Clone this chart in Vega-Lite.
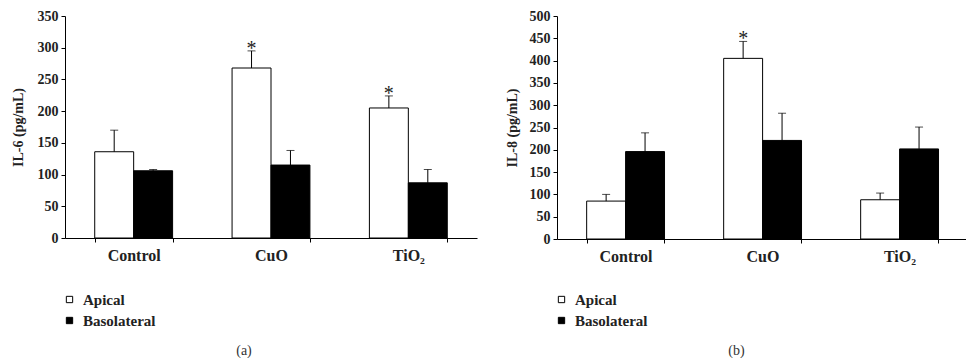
{
  "$schema": "https://vega.github.io/schema/vega-lite/v6.json",
  "background": "white",
  "padding": {"left": 11, "top": 9, "right": 0, "bottom": 0},
  "bounds": "flush",
  "spacing": 80,
  "datasets": {
    "il6": [
      {"site": "Control", "side": "Apical", "mean": 136, "upper": 170, "sig": ""},
      {"site": "Control", "side": "Basolateral", "mean": 106, "upper": 108, "sig": ""},
      {"site": "CuO", "side": "Apical", "mean": 268, "upper": 295, "sig": "*"},
      {"site": "CuO", "side": "Basolateral", "mean": 115, "upper": 138, "sig": ""},
      {"site": "TiO₂", "side": "Apical", "mean": 205, "upper": 224, "sig": "*"},
      {"site": "TiO₂", "side": "Basolateral", "mean": 87, "upper": 108, "sig": ""}
    ],
    "il8": [
      {"site": "Control", "side": "Apical", "mean": 85, "upper": 100, "sig": ""},
      {"site": "Control", "side": "Basolateral", "mean": 196, "upper": 238, "sig": ""},
      {"site": "CuO", "side": "Apical", "mean": 405, "upper": 443, "sig": "*"},
      {"site": "CuO", "side": "Basolateral", "mean": 221, "upper": 282, "sig": ""},
      {"site": "TiO₂", "side": "Apical", "mean": 88, "upper": 103, "sig": ""},
      {"site": "TiO₂", "side": "Basolateral", "mean": 202, "upper": 251, "sig": ""}
    ]
  },
  "config": {
    "view": {"stroke": null},
    "font": "Liberation Serif",
    "axis": {
      "labelFont": "Liberation Serif",
      "labelFontSize": 14,
      "labelFontWeight": "bold",
      "labelColor": "#222",
      "labelOverlap": false,
      "titleFont": "Liberation Serif",
      "titleFontSize": 14,
      "titleFontWeight": "bold",
      "titleColor": "#222",
      "domainColor": "black",
      "tickColor": "black",
      "tickSize": 4,
      "grid": false
    },
    "legend": {
      "labelFont": "Liberation Serif",
      "labelFontSize": 15,
      "labelFontWeight": "bold",
      "labelColor": "#222",
      "padding": 0
    },
    "title": {
      "font": "Liberation Serif",
      "fontSize": 14,
      "fontWeight": "normal",
      "color": "#333"
    }
  },
  "resolve": {"scale": {"fill": "independent"}, "legend": {"fill": "independent"}},
  "hconcat": [
    {
      "width": 412,
      "height": 222,
      "data": {"name": "il6"},
      "title": {"text": "(a)", "orient": "bottom", "anchor": "middle", "frame": "bounds", "offset": 15},
      "encoding": {
        "x": {
          "field": "site", "type": "nominal", "sort": ["Control", "CuO", "TiO₂"],
          "scale": {"paddingInner": 0.433, "paddingOuter": 0.2165},
          "axis": {"title": null, "labelAngle": 0, "tickBand": "extent", "labelPadding": 5, "labelFontSize": 16}
        },
        "xOffset": {"field": "side", "type": "nominal", "sort": ["Apical", "Basolateral"], "scale": {"paddingInner": 0, "paddingOuter": 0}}
      },
      "layer": [
        {
          "mark": {"type": "bar", "stroke": "black", "strokeWidth": 1},
          "encoding": {
            "y": {"field": "mean", "type": "quantitative", "scale": {"domain": [0, 350]},
                  "axis": {"title": "IL-6 (pg/mL)", "values": [0, 50, 100, 150, 200, 250, 300, 350], "labelOverlap": false, "labelPadding": 3, "titlePadding": 12}},
            "fill": {"field": "side", "type": "nominal",
                     "scale": {"domain": ["Apical", "Basolateral"], "range": ["white", "black"]},
                     "legend": {"title": null, "orient": "none", "legendX": -3, "legendY": 276,
                                "symbolType": "square", "symbolSize": 40, "symbolStrokeColor": "black",
                                "symbolStrokeWidth": 1, "labelOffset": 6, "rowPadding": 5}}
          }
        },
        {
          "mark": {"type": "rule", "color": "black", "strokeWidth": 1},
          "encoding": {"y": {"field": "mean", "type": "quantitative",
                  "axis": {"title": "IL-6 (pg/mL)", "values": [0, 50, 100, 150, 200, 250, 300, 350], "labelOverlap": false, "labelPadding": 3, "titlePadding": 12}},
                       "y2": {"field": "upper"}}
        },
        {
          "mark": {"type": "tick", "color": "black", "size": 8, "thickness": 1},
          "encoding": {"y": {"field": "upper", "type": "quantitative",
                  "axis": {"title": "IL-6 (pg/mL)", "values": [0, 50, 100, 150, 200, 250, 300, 350], "labelOverlap": false, "labelPadding": 3, "titlePadding": 12}}}
        },
        {
          "mark": {"type": "text", "fontSize": 20, "baseline": "alphabetic", "dy": 4, "color": "#222"},
          "encoding": {"y": {"field": "upper", "type": "quantitative",
                  "axis": {"title": "IL-6 (pg/mL)", "values": [0, 50, 100, 150, 200, 250, 300, 350], "labelOverlap": false, "labelPadding": 3, "titlePadding": 12}},
                       "text": {"field": "sig"}}
        }
      ]
    },
    {
      "width": 411,
      "height": 223,
      "data": {"name": "il8"},
      "title": {"text": "(b)", "orient": "bottom", "anchor": "middle", "frame": "bounds", "offset": 15},
      "encoding": {
        "x": {
          "field": "site", "type": "nominal", "sort": ["Control", "CuO", "TiO₂"],
          "scale": {"paddingInner": 0.433, "paddingOuter": 0.2165},
          "axis": {"title": null, "labelAngle": 0, "tickBand": "extent", "labelPadding": 5, "labelFontSize": 16}
        },
        "xOffset": {"field": "side", "type": "nominal", "sort": ["Apical", "Basolateral"], "scale": {"paddingInner": 0, "paddingOuter": 0}}
      },
      "layer": [
        {
          "mark": {"type": "bar", "stroke": "black", "strokeWidth": 1},
          "encoding": {
            "y": {"field": "mean", "type": "quantitative", "scale": {"domain": [0, 500]},
                  "axis": {"title": "IL-8 (pg/mL)", "values": [0, 50, 100, 150, 200, 250, 300, 350, 400, 450, 500], "labelOverlap": false, "labelPadding": 3, "titlePadding": 10}},
            "fill": {"field": "side", "type": "nominal",
                     "scale": {"domain": ["Apical", "Basolateral"], "range": ["white", "black"]},
                     "legend": {"title": null, "orient": "none", "legendX": -3, "legendY": 276,
                                "symbolType": "square", "symbolSize": 40, "symbolStrokeColor": "black",
                                "symbolStrokeWidth": 1, "labelOffset": 6, "rowPadding": 5}}
          }
        },
        {
          "mark": {"type": "rule", "color": "black", "strokeWidth": 1},
          "encoding": {"y": {"field": "mean", "type": "quantitative",
                  "axis": {"title": "IL-8 (pg/mL)", "values": [0, 50, 100, 150, 200, 250, 300, 350, 400, 450, 500], "labelOverlap": false, "labelPadding": 3, "titlePadding": 10}},
                       "y2": {"field": "upper"}}
        },
        {
          "mark": {"type": "tick", "color": "black", "size": 8, "thickness": 1},
          "encoding": {"y": {"field": "upper", "type": "quantitative",
                  "axis": {"title": "IL-8 (pg/mL)", "values": [0, 50, 100, 150, 200, 250, 300, 350, 400, 450, 500], "labelOverlap": false, "labelPadding": 3, "titlePadding": 10}}}
        },
        {
          "mark": {"type": "text", "fontSize": 20, "baseline": "alphabetic", "dy": 4, "color": "#222"},
          "encoding": {"y": {"field": "upper", "type": "quantitative",
                  "axis": {"title": "IL-8 (pg/mL)", "values": [0, 50, 100, 150, 200, 250, 300, 350, 400, 450, 500], "labelOverlap": false, "labelPadding": 3, "titlePadding": 10}},
                       "text": {"field": "sig"}}
        }
      ]
    }
  ]
}
